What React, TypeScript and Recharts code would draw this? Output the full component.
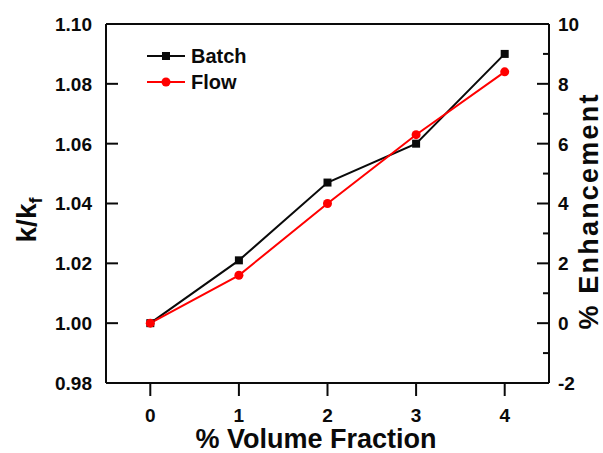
import React from "react"
import { LineChart, Line, XAxis, YAxis } from "recharts"

const volumeFractions = [0, 1, 2, 3, 4]
const batchValues = [1.0, 1.021, 1.047, 1.06, 1.09]
const flowValues = [1.0, 1.016, 1.04, 1.063, 1.084]

const seriesNames = ["Batch", "Flow"]

const xDomain = [-0.5, 4.5]
const kDomain = [0.98, 1.1]
const enhDomain = [-2, 10]
const xTicks = [0, 1, 2, 3, 4]
const leftTicks = [0.98, 1.0, 1.02, 1.04, 1.06, 1.08, 1.1]
const rightTicks = [-2, -1, 0, 1, 2, 3, 4, 5, 6, 7, 8, 9, 10]

const FONT = "'Liberation Sans', Arial, sans-serif"
const INK = "#0a0a0a"
const RED = "#ff0000"

const data = volumeFractions.map((vf, i) => ({
  vf,
  batch: batchValues[i],
  flow: flowValues[i],
}))

function LeftTick(props: any) {
  const { x, y, payload } = props
  return (
    <g>
      <line x1={x} x2={x + 12} y1={y} y2={y} stroke={INK} strokeWidth={2} />
      <text x={x - 14} y={y} dy="0.36em" textAnchor="end" fontFamily={FONT} fontWeight="bold" fontSize={19} fill={INK}>
        {Number(payload.value).toFixed(2)}
      </text>
    </g>
  )
}

function RightTick(props: any) {
  const { x, y, payload } = props
  const major = payload.value % 2 === 0
  return (
    <g>
      <line x1={x} x2={x - (major ? 12 : 6)} y1={y} y2={y} stroke={INK} strokeWidth={2} />
      {major && (
        <text x={x + 9} y={y} dy="0.36em" textAnchor="start" fontFamily={FONT} fontWeight="bold" fontSize={19} fill={INK}>
          {payload.value}
        </text>
      )}
    </g>
  )
}

function BottomTick(props: any) {
  const { x, y, payload } = props
  return (
    <g>
      <line x1={x} x2={x} y1={y} y2={y + 13} stroke={INK} strokeWidth={2} />
      <text x={x} y={y + 39} textAnchor="middle" fontFamily={FONT} fontWeight="bold" fontSize={19} fill={INK}>
        {payload.value}
      </text>
    </g>
  )
}

function SquareDot(props: any) {
  const { cx, cy } = props
  if (cx == null || cy == null) return null
  return <rect x={cx - 4} y={cy - 4} width={8} height={8} fill={INK} />
}

function LegendBox() {
  const colors = [INK, RED]
  return (
    <div style={{ position: "absolute", left: 147, top: 43, fontFamily: FONT, fontWeight: "bold", fontSize: 20 }}>
      {seriesNames.map((name, i) => (
        <div key={name} style={{ display: "flex", alignItems: "center", height: 26 }}>
          <svg width={38} height={26}>
            <line x1={0} x2={38} y1={13} y2={13} stroke={colors[i]} strokeWidth={2} />
            {i === 0 ? (
              <rect x={15} y={9} width={8} height={8} fill={colors[i]} />
            ) : (
              <circle cx={19} cy={13} r={4.5} fill={colors[i]} />
            )}
          </svg>
          <span style={{ marginLeft: 6, color: INK, lineHeight: "26px" }}>{name}</span>
        </div>
      ))}
    </div>
  )
}

const titleStyle: React.CSSProperties = {
  position: "absolute",
  fontFamily: FONT,
  fontWeight: "bold",
  color: INK,
  whiteSpace: "nowrap",
}

export default function App() {
  return (
    <div style={{ position: "absolute", left: 0, top: 0, width: 603, height: 453, overflow: "hidden" }}>
      <LineChart width={603} height={453} data={data} margin={{ top: 23, right: 0, bottom: 0, left: 0 }}>
        {/* hidden axes carrying the data series, same domains as the frame; zero size so they don't push the frame axes */}
        <XAxis xAxisId="data" dataKey="vf" type="number" domain={xDomain} hide height={0} />
        <YAxis yAxisId="data" domain={kDomain} hide width={0} />

        {/* frame axes */}
        <XAxis
          xAxisId="top"
          orientation="top"
          dataKey="vf"
          type="number"
          domain={xDomain}
          height={1}
          tick={false}
          tickLine={false}
          axisLine={{ stroke: INK, strokeWidth: 2 }}
        />
        <XAxis
          xAxisId="bottom"
          dataKey="vf"
          type="number"
          domain={xDomain}
          ticks={xTicks}
          interval={0}
          height={70}
          tickSize={0}
          tickMargin={0}
          tickLine={false}
          tick={<BottomTick />}
          axisLine={{ stroke: INK, strokeWidth: 2 }}
        />
        <YAxis
          yAxisId="left"
          domain={kDomain}
          ticks={leftTicks}
          interval={0}
          width={106}
          tickSize={0}
          tickMargin={0}
          tickLine={false}
          tick={<LeftTick />}
          axisLine={{ stroke: INK, strokeWidth: 2 }}
        />
        <YAxis
          yAxisId="right"
          orientation="right"
          domain={enhDomain}
          ticks={rightTicks}
          interval={0}
          width={54}
          tickSize={0}
          tickMargin={0}
          tickLine={false}
          tick={<RightTick />}
          axisLine={{ stroke: INK, strokeWidth: 2 }}
        />

        {/* invisible helpers so the frame axes get a scale */}
        <Line xAxisId="bottom" yAxisId="left" dataKey="batch" stroke="none" dot={false} activeDot={false} legendType="none" isAnimationActive={false} />
        <Line xAxisId="top" yAxisId="right" dataKey="flow" stroke="none" dot={false} activeDot={false} legendType="none" isAnimationActive={false} />

        <Line
          xAxisId="data"
          yAxisId="data"
          dataKey="batch"
          name="Batch"
          stroke={INK}
          strokeWidth={2}
          dot={<SquareDot />}
          isAnimationActive={false}
        />
        <Line
          xAxisId="data"
          yAxisId="data"
          dataKey="flow"
          name="Flow"
          stroke={RED}
          strokeWidth={2}
          dot={{ r: 4.5, fill: RED, stroke: RED, strokeWidth: 0 }}
          isAnimationActive={false}
        />
      </LineChart>
      <LegendBox />
      <div style={{ ...titleStyle, left: 316, top: 426, fontSize: 27, lineHeight: "27px", transform: "translateX(-50%)" }}>
        % Volume Fraction
      </div>
      <div style={{ ...titleStyle, left: 28, top: 220, fontSize: 28, lineHeight: "32px", transform: "translate(-50%, -50%) rotate(-90deg)" }}>
        k/k<span style={{ fontSize: 18, position: "relative", top: 6 }}>f</span>
      </div>
      <div style={{ ...titleStyle, left: 589, top: 211, fontSize: 27, lineHeight: "31px", letterSpacing: 2.2, transform: "translate(-50%, -50%) rotate(-90deg)" }}>
        % Enhancement
      </div>
    </div>
  )
}
